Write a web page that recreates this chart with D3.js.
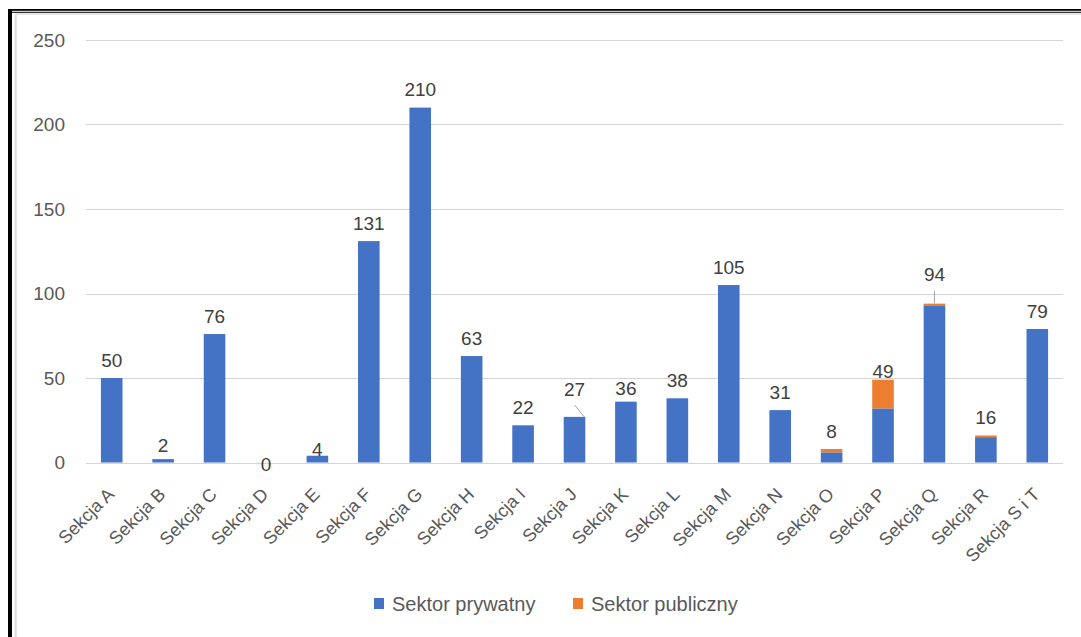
<!DOCTYPE html>
<html>
<head>
<meta charset="utf-8">
<script src="https://cdn.jsdelivr.net/npm/d3@7"></script>
<style>
	body { margin: 0; background: #fff; }
	text { font-family: "Liberation Sans", Arial, sans-serif; }
</style>
</head>
<body>
<script>
	// data
	var categories = [ "Sekcja A", "Sekcja B", "Sekcja C", "Sekcja D", "Sekcja E", "Sekcja F", "Sekcja G",
			"Sekcja H", "Sekcja I", "Sekcja J", "Sekcja K", "Sekcja L", "Sekcja M", "Sekcja N", "Sekcja O",
			"Sekcja P", "Sekcja Q", "Sekcja R", "Sekcja S i T" ];
	var prywatny = [ 50, 2, 76, 0, 4, 131, 210, 63, 22, 27, 36, 38, 105, 31, 6, 32, 93, 15, 79 ];
	var publiczny = [ 0, 0, 0, 0, 0, 0, 0, 0, 0, 0, 0, 0, 0, 0, 2, 17, 1, 1, 0 ];
	var seriesNames = [ "Sektor prywatny", "Sektor publiczny" ];
	var yTicks = [ 0, 50, 100, 150, 200, 250 ];

	var colors = [ "#4472C4", "#ED7D31" ];
	// label tweaks (Excel "best fit" placement)
	var labelNudge = { "Sekcja J" : 10, "Sekcja Q" : 11, "Sekcja P" : -10, "Sekcja K" : -5,
		"Sekcja B" : -4, "Sekcja D" : -20, "Sekcja E" : -12 };
	var leaderLines = [ "Sekcja J", "Sekcja Q" ];

	var width = 1081, height = 637;
	var svg = d3.select("body").append("svg")//
	.attr("width", width)//
	.attr("height", height);

	// frame
	svg.append("rect").attr("x", 8).attr("y", 9).attr("width", 4).attr("height", height).attr("fill", "#000");
	svg.append("rect").attr("x", 8).attr("y", 9).attr("width", width).attr("height", 1.8).attr("fill", "#000");
	svg.append("rect").attr("x", 8).attr("y", 11.8).attr("width", width).attr("height", 1).attr("fill", "#000");
	svg.append("rect").attr("x", 14.7).attr("y", 13).attr("width", 2).attr("height", height).attr("fill", "#dcdcdc");
	svg.append("rect").attr("x", 14.7).attr("y", 13).attr("width", width).attr("height", 2).attr("fill", "#e6e6e6");

	var x = d3.scaleBand().domain(categories).range([ 86, 1063 ]).paddingInner(0.58).paddingOuter(0.29);
	var y = d3.scaleLinear().domain([ 0, 250 ]).range([ 462.5, 40 ]);

	// gridlines
	svg.append("g").selectAll("line").data(yTicks).enter().append("line")//
	.attr("x1", 86).attr("x2", 1063)//
	.attr("y1", function(d) { return Math.round(y(d)) + 0.5; })//
	.attr("y2", function(d) { return Math.round(y(d)) + 0.5; })//
	.attr("stroke", "#d4d4d4").attr("stroke-width", 1);

	// y axis labels
	var yAxis = d3.axisLeft(y).tickValues(yTicks).tickSize(0).tickPadding(0);
	svg.append("g").attr("transform", "translate(65,0)").call(yAxis)//
	.call(function(g) {
		g.select(".domain").remove();
		g.selectAll("text").attr("fill", "#595959").attr("font-size", "19px")
				.style("font-family", "Liberation Sans, Arial, sans-serif");
	});

	// stacked bars
	var rows = categories.map(function(c, i) {
		return { cat : c, prywatny : prywatny[i], publiczny : publiczny[i] };
	});
	var stack = d3.stack().keys([ "prywatny", "publiczny" ])(rows);

	svg.append("g").selectAll("g").data(stack).enter().append("g")//
	.attr("fill", function(d, i) { return colors[i]; })//
	.selectAll("rect").data(function(d) { return d; }).enter().append("rect")//
	.attr("x", function(d) { return x(d.data.cat); })//
	.attr("width", x.bandwidth())//
	.attr("y", function(d) { return y(d[1]); })//
	.attr("height", function(d) { return y(d[0]) - y(d[1]); });

	// x labels
	svg.append("g").selectAll("text").data(categories).enter().append("text")//
	.attr("transform", function(d) {
		return "translate(" + (x(d) + x.bandwidth() / 2 - 1) + ",491) rotate(-45)";
	})//
	.attr("text-anchor", "end")//
	.attr("dy", "0.35em")//
	.attr("fill", "#595959")//
	.attr("font-size", "18px")//
	.text(function(d) { return d; });

	// value labels (totals)
	var totals = rows.map(function(r) { return r.prywatny + r.publiczny; });
	function labelY(i) {
		return y(totals[i]) - 18 - (labelNudge[categories[i]] || 0);
	}
	svg.append("g").selectAll("text").data(totals).enter().append("text")//
	.attr("x", function(d, i) { return x(categories[i]) + x.bandwidth() / 2; })//
	.attr("y", function(d, i) { return labelY(i); })//
	.attr("dy", "0.35em")//
	.attr("text-anchor", "middle")//
	.attr("fill", "#404040")//
	.attr("font-size", "19px")//
	.text(function(d) { return d; });

	// leader lines
	leaderLines.forEach(function(c) {
		var i = categories.indexOf(c);
		var cx = x(c) + x.bandwidth() / 2;
		var top = y(totals[i]);
		var ly = labelY(i) + 10;
		var tx = c == "Sekcja Q" ? cx : x(c) + x.bandwidth() - 1;
		svg.append("line").attr("x1", cx).attr("y1", ly + 6).attr("x2", tx).attr("y2", top)//
		.attr("stroke", "#a6a6a6").attr("stroke-width", 1);
	});

	// legend
	var legendX = [ 374, 573 ];
	var legend = svg.append("g").selectAll("g").data(seriesNames).enter().append("g")//
	.attr("transform", function(d, i) { return "translate(" + legendX[i] + ",598)"; });
	legend.append("rect").attr("width", 10).attr("height", 11).attr("fill", function(d, i) { return colors[i]; });
	legend.append("text").attr("x", 18).attr("y", 5.5).attr("dy", "0.35em")//
	.attr("fill", "#595959").attr("font-size", "20px")//
	.text(function(d) { return d; });
</script>
</body>
</html>
